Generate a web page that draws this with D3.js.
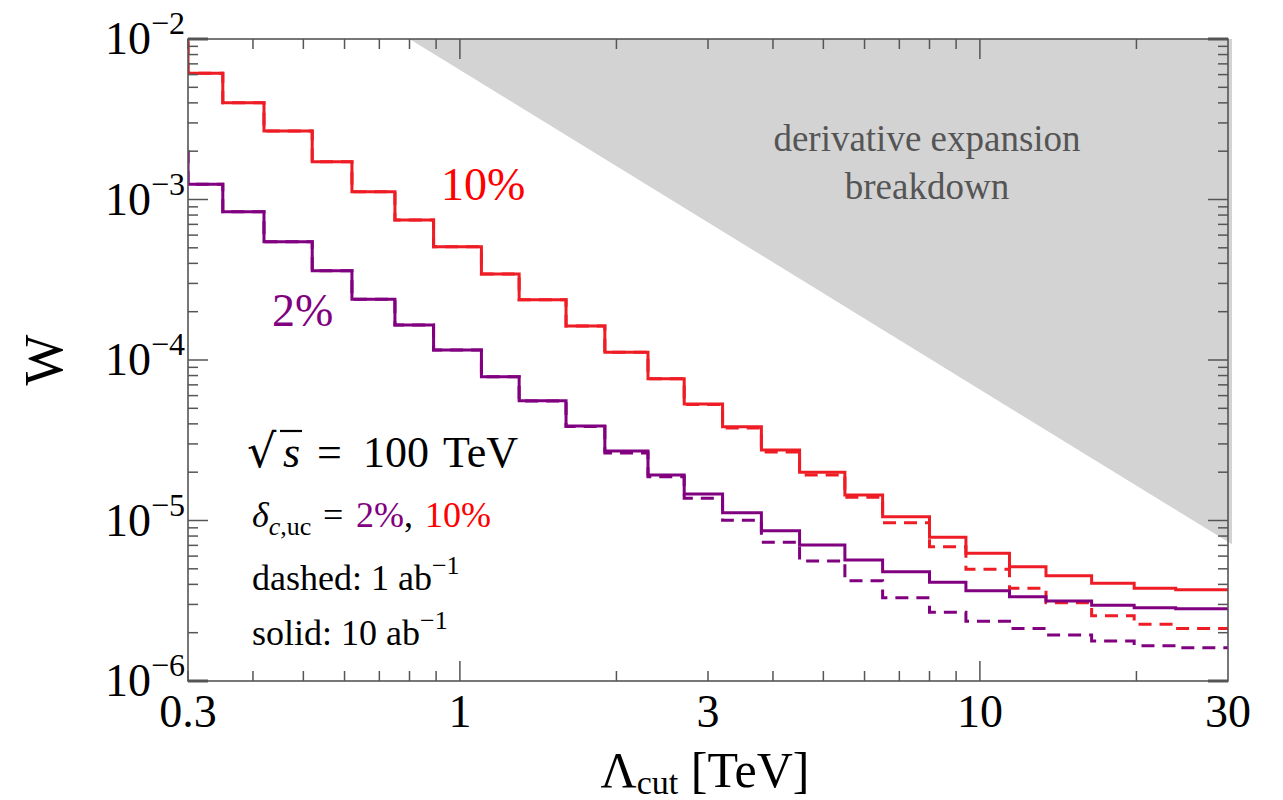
<!DOCTYPE html>
<html>
<head>
<meta charset="utf-8">
<script src="https://cdn.jsdelivr.net/npm/d3@7"></script>
<style>
  body { margin: 0; background: #fff; }
</style>
</head>
<body>
<svg id="chart" width="1283" height="800"></svg>
<script>
// bin edges in Lambda_cut [TeV]
const binEdges = [0.3, 0.35, 0.42, 0.52, 0.62, 0.75, 0.89, 1.1, 1.3, 1.6, 1.9, 2.3, 2.7,
  3.2, 3.8, 4.5, 5.5, 6.5, 8.0, 9.4, 11.4, 13.4, 16.4, 19.8, 23.8, 30];

// value just below the first edge (line enters from the left edge)
const startRed = 1.3e-2;
const startPurple = 2.03e-3;

// delta = 10%, 10 ab^-1 (solid)
const red10 = [6.11e-3, 4.01e-3, 2.67e-3, 1.72e-3, 1.118e-3, 7.45e-4, 5.08e-4, 3.43e-4,
  2.37e-4, 1.63e-4, 1.117e-4, 7.65e-5, 5.32e-5, 3.84e-5, 2.75e-5, 2.00e-5, 1.44e-5,
  1.056e-5, 7.86e-6, 6.25e-6, 5.15e-6, 4.53e-6, 4.06e-6, 3.78e-6, 3.70e-6];
// delta = 10%, 1 ab^-1 (dashed)
const red1 = [6.11e-3, 4.01e-3, 2.67e-3, 1.72e-3, 1.118e-3, 7.45e-4, 5.08e-4, 3.43e-4,
  2.37e-4, 1.63e-4, 1.117e-4, 7.65e-5, 5.28e-5, 3.77e-5, 2.67e-5, 1.92e-5, 1.394e-5,
  9.69e-6, 6.87e-6, 4.97e-6, 3.78e-6, 3.07e-6, 2.55e-6, 2.26e-6, 2.12e-6];
// delta = 2%, 10 ab^-1 (solid)
const purple10 = [1.243e-3, 8.39e-4, 5.46e-4, 3.60e-4, 2.39e-4, 1.652e-4, 1.154e-4, 7.87e-5,
  5.58e-5, 3.88e-5, 2.71e-5, 1.92e-5, 1.462e-5, 1.118e-5, 8.64e-6, 7.04e-6, 5.67e-6,
  4.80e-6, 4.12e-6, 3.65e-6, 3.35e-6, 3.15e-6, 2.96e-6, 2.86e-6, 2.82e-6];
// delta = 2%, 1 ab^-1 (dashed)
const purple1 = [1.243e-3, 8.39e-4, 5.46e-4, 3.60e-4, 2.39e-4, 1.652e-4, 1.154e-4, 7.87e-5,
  5.55e-5, 3.85e-5, 2.63e-5, 1.87e-5, 1.375e-5, 1.003e-5, 7.31e-6, 5.59e-6, 4.22e-6,
  3.30e-6, 2.68e-6, 2.36e-6, 2.12e-6, 1.934e-6, 1.775e-6, 1.66e-6, 1.61e-6];

// edge of the derivative expansion validity region
const breakdownX = [0.8, 30];
const breakdownY = [1e-2, 7.1e-6];

const xTickLabels = [0.3, 1, 3, 10, 30];
const yTickExps = [-2, -3, -4, -5, -6];

const serif = "'Liberation Serif', serif";

const margin = {top: 39, right: 55, bottom: 119, left: 188},
  width = 1283 - margin.left - margin.right,
  height = 800 - margin.top - margin.bottom;

const svg = d3.select("#chart");
const g = svg.append("g")
  .attr("transform", "translate(" + margin.left + "," + margin.top + ")");

const x = d3.scaleLog().domain([0.3, 30]).range([0, width]);
const y = d3.scaleLog().domain([1e-6, 1e-2]).range([height, 0]);

svg.append("defs").append("clipPath").attr("id", "plotclip")
  .append("rect").attr("width", width).attr("height", height);

const plot = g.append("g").attr("clip-path", "url(#plotclip)");

// shaded breakdown region
const shade = [
  [x(breakdownX[0]), y(breakdownY[0])],
  [x(breakdownX[1]) + 4, y(breakdownY[1])],
  [x(breakdownX[1]) + 4, 0]
];
g.append("path")
  .attr("d", "M" + shade.join("L") + "Z")
  .attr("fill", "#d3d3d3");

g.append("text")
  .attr("x", 739).attr("y", 112)
  .attr("text-anchor", "middle")
  .attr("font-size", 37)
  .attr("fill", "#555")
  .text("derivative expansion");
g.append("text")
  .attr("x", 739).attr("y", 160)
  .attr("text-anchor", "middle")
  .attr("font-size", 37)
  .attr("fill", "#555")
  .text("breakdown");

function stepPoints(start, vals) {
  const pts = [{x: binEdges[0], v: start}];
  vals.forEach((v, i) => pts.push({x: binEdges[i], v: v}));
  pts.push({x: binEdges[binEdges.length - 1], v: vals[vals.length - 1]});
  return pts;
}

const line = d3.line()
  .x(d => x(d.x))
  .y(d => y(d.v))
  .curve(d3.curveStepAfter);

const series = [
  {vals: red1, start: startRed, color: "#ee1c24", dash: "13,8"},
  {vals: purple1, start: startPurple, color: "#800080", dash: "13,8"},
  {vals: red10, start: startRed, color: "#ee1c24", dash: null},
  {vals: purple10, start: startPurple, color: "#800080", dash: null}
];

series.forEach(s => {
  plot.append("path")
    .datum(stepPoints(s.start, s.vals))
    .attr("fill", "none")
    .attr("stroke", s.color)
    .attr("stroke-width", 3)
    .attr("stroke-dasharray", s.dash)
    .attr("d", line);
});

// frame with inward ticks on all four sides
const frameColor = "#555";
const xMajor = [1, 10];
const xMinor = [];
[0.1, 1, 10].forEach(dec => {
  for (let k = 2; k <= 9; k++) {
    const v = dec * k;
    if (v > 0.3 && v < 30) xMinor.push(v);
  }
});
const yMajor = [1e-5, 1e-4, 1e-3];
const yMinor = [];
[1e-6, 1e-5, 1e-4, 1e-3].forEach(dec => {
  for (let k = 2; k <= 9; k++) yMinor.push(dec * k);
});

const ticks = g.append("g").attr("stroke", frameColor).attr("stroke-width", 1.5);
xMajor.concat(xMinor).forEach(v => {
  const len = xMajor.includes(v) ? 20 : 10;
  ticks.append("line").attr("x1", x(v)).attr("x2", x(v)).attr("y1", height).attr("y2", height - len);
  ticks.append("line").attr("x1", x(v)).attr("x2", x(v)).attr("y1", 0).attr("y2", len);
});
yMajor.concat(yMinor).forEach(v => {
  const len = yMajor.includes(v) ? 20 : 10;
  ticks.append("line").attr("y1", y(v)).attr("y2", y(v)).attr("x1", 0).attr("x2", len);
  ticks.append("line").attr("y1", y(v)).attr("y2", y(v)).attr("x1", width).attr("x2", width - len);
});
// corner majors lie along the frame
[[0, height, 20, height], [width, height, width - 20, height], [0, 0, 20, 0], [width, 0, width - 20, 0]]
  .forEach(c => ticks.append("line").attr("x1", c[0]).attr("y1", c[1]).attr("x2", c[2]).attr("y2", c[3]).attr("stroke-width", 3));

g.append("rect")
  .attr("width", width).attr("height", height)
  .attr("fill", "none")
  .attr("stroke", frameColor)
  .attr("stroke-width", 1.6);

// tick labels
g.selectAll(".xlab")
  .data(xTickLabels)
  .join("text")
  .attr("class", "xlab")
  .attr("x", d => x(d))
  .attr("y", height + 46)
  .attr("text-anchor", "middle")
  .attr("font-size", 46)
  .text(d => d);

const ylab = g.selectAll(".ylab")
  .data(yTickExps)
  .join("text")
  .attr("class", "ylab")
  .attr("x", -3)
  .attr("y", d => y(Math.pow(10, d)) + 15)
  .attr("text-anchor", "end")
  .attr("font-size", 46);
ylab.append("tspan").text("10");
ylab.append("tspan")
  .attr("font-size", 32)
  .attr("dy", -20)
  .text(d => "\u2212" + Math.abs(d));

// axis titles
const xt = g.append("text")
  .attr("x", width / 2 - 3)
  .attr("y", height + 106)
  .attr("text-anchor", "middle")
  .attr("font-size", 50);
xt.append("tspan").text("\u039B");
xt.append("tspan").attr("font-size", 34).attr("dy", 7).text("cut");
xt.append("tspan").attr("dy", -7).text(" [TeV]");

g.append("text")
  .attr("transform", "translate(-126," + (height / 2) + ") rotate(-90)")
  .attr("text-anchor", "middle")
  .attr("font-size", 54)
  .text("W");

// curve labels
g.append("text")
  .attr("x", x(0.92)).attr("y", y(1e-3))
  .attr("font-size", 46)
  .attr("fill", "#ff0000")
  .text("10%");
g.append("text")
  .attr("x", x(0.435)).attr("y", y(1e-3) + 126)
  .attr("font-size", 46)
  .attr("fill", "#800080")
  .text("2%");

// annotation block
const note = g.append("g").attr("transform", "translate(58,0)");
const sq = note.append("text").attr("y", 428).attr("font-size", 44);
sq.append("tspan").attr("x", 1).attr("font-size", 46).text("\u221A");
sq.append("tspan").attr("x", 37).attr("font-style", "italic").text("s");
sq.append("tspan").attr("x", 71).text("=");
sq.append("tspan").attr("x", 117).text("100");
sq.append("tspan").attr("x", 197).text("TeV");
// overbar of the square root
note.append("line")
  .attr("x1", 34).attr("x2", 56)
  .attr("y1", 392).attr("y2", 392)
  .attr("stroke", "#000").attr("stroke-width", 2.2);

const dl = note.append("text").attr("y", 488).attr("font-size", 36);
dl.append("tspan").attr("x", 6).attr("font-style", "italic").text("\u03B4");
dl.append("tspan").attr("font-size", 26).attr("dy", 8).attr("font-style", "italic").text("c");
dl.append("tspan").attr("font-size", 26).text(",uc");
dl.append("tspan").attr("x", 77).attr("dy", -8).text("=");
dl.append("tspan").attr("x", 110).attr("fill", "#800080").text("2%");
dl.append("tspan").text(",");
dl.append("tspan").attr("x", 179).attr("fill", "#ff0000").text("10%");

const da = note.append("text").attr("x", 6).attr("y", 551).attr("font-size", 36);
da.append("tspan").text("dashed: 1 ab");
da.append("tspan").attr("font-size", 26).attr("dy", -16).text("\u22121");

const so = note.append("text").attr("x", 6).attr("y", 606).attr("font-size", 36);
so.append("tspan").text("solid: 10 ab");
so.append("tspan").attr("font-size", 26).attr("dy", -16).text("\u22121");

svg.selectAll("text").attr("font-family", serif);
// the radical sign comes from DejaVu, whose glyph is taller
sq.select("tspan").attr("font-family", "'DejaVu Serif', serif");
</script>
</body>
</html>
